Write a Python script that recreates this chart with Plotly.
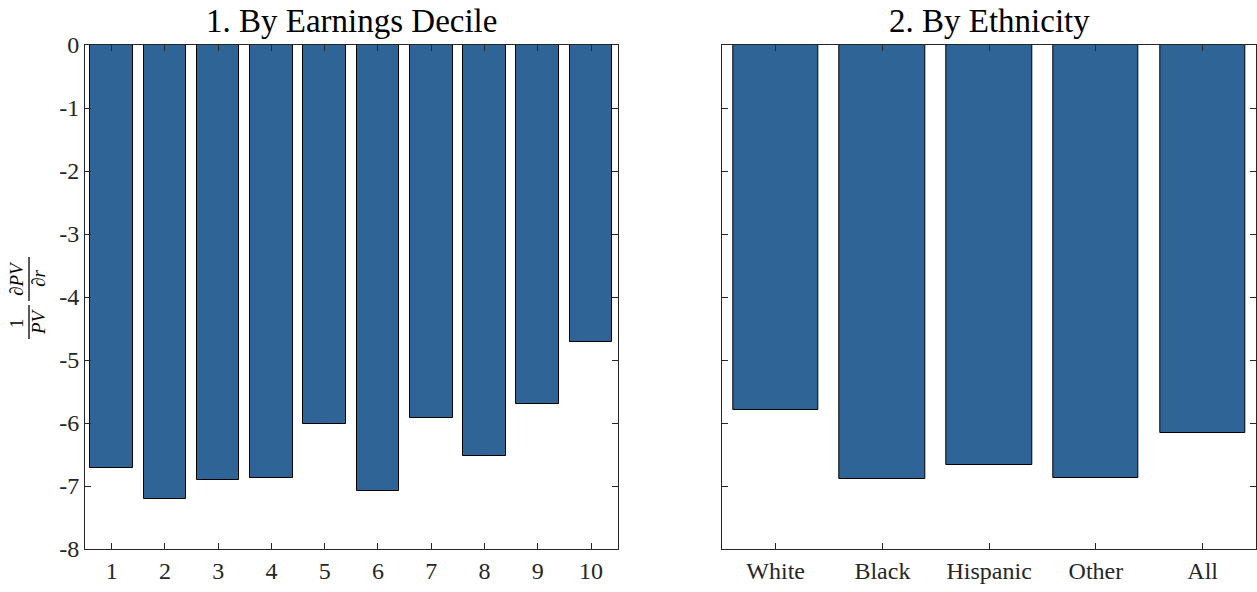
import plotly.graph_objects as go
from plotly.subplots import make_subplots

deciles = [1, 2, 3, 4, 5, 6, 7, 8, 9, 10]
decile_values = [-6.71, -7.21, -6.91, -6.87, -6.02, -7.08, -5.92, -6.53, -5.70, -4.71]
ethnicities = ["White", "Black", "Hispanic", "Other", "All"]
ethnicity_values = [-5.79, -6.89, -6.67, -6.88, -6.16]
ytick_vals = [0, -1, -2, -3, -4, -5, -6, -7, -8]
ytick_text = ["0", "-1", "-2", "-3", "-4", "-5", "-6", "-7", "-8"]
titles = ["1. By Earnings Decile", "2. By Ethnicity"]

W, H = 1257, 592
ML, MR, MT, MB = 85, 1, 45, 43
PW = W - ML - MR
PH = H - MT - MB

FONT = "Liberation Serif"
BAR = "rgb(47,100,151)"
AX = "#262626"

fig = make_subplots(rows=1, cols=2, horizontal_spacing=0.09)
fig.add_trace(go.Bar(x=deciles, y=decile_values, width=0.8,
                     marker=dict(color=BAR, line=dict(color="black", width=1))), 1, 1)
fig.add_trace(go.Bar(x=list(range(1, 6)), y=ethnicity_values, width=0.8,
                     marker=dict(color=BAR, line=dict(color="black", width=1))), 1, 2)

ld = [0, (617.7 - ML) / PW]
rd = [(722.3 - ML) / PW, 1]

axcommon = dict(showline=True, linecolor=AX, linewidth=1, mirror="ticks", ticks="inside",
                ticklen=6, tickcolor=AX, showgrid=False, zeroline=False,
                tickfont=dict(family=FONT, size=24, color="#262626"))

fig.update_xaxes(domain=ld, range=[0.5, 10.5], tickvals=deciles,
                 ticktext=[str(d) for d in deciles], row=1, col=1, **axcommon)
fig.update_xaxes(domain=rd, range=[0.5, 5.5], tickvals=list(range(1, 6)),
                 ticktext=ethnicities, row=1, col=2, **axcommon)
fig.update_yaxes(range=[-8, 0], tickvals=ytick_vals, ticktext=ytick_text,
                 row=1, col=1, **axcommon)
fig.update_yaxes(range=[-8, 0], tickvals=ytick_vals, ticktext=ytick_text,
                 showticklabels=False, row=1, col=2, **axcommon)

def px(xp):
    return (xp - ML) / PW

def py(yp):
    return 1 - (yp - MT) / PH

ann = []
for t, d in zip(titles, [ld, rd]):
    ann.append(dict(text=t, x=(d[0] + d[1]) / 2, y=py(21), xref="paper", yref="paper",
                    showarrow=False, font=dict(family=FONT, size=33, color="black"),
                    xanchor="center", yanchor="middle"))

lab = [("1", 16, 323), ("<i>PV</i>", 38, 322),
       ("<i>∂PV</i>", 16, 279), ("<i>∂r</i>", 38, 279)]
for txt, xp, yp in lab:
    ann.append(dict(text=txt, x=px(xp), y=py(yp), xref="paper", yref="paper",
                    showarrow=False, textangle=-90,
                    font=dict(family=FONT, size=19, color="black"),
                    xanchor="center", yanchor="middle"))

shapes = [
    dict(type="line", xref="paper", yref="paper", x0=px(29), x1=px(29),
         y0=py(305), y1=py(339), line=dict(color="black", width=1.3)),
    dict(type="line", xref="paper", yref="paper", x0=px(29), x1=px(29),
         y0=py(257), y1=py(301), line=dict(color="black", width=1.3)),
]

fig.update_layout(width=W, height=H, margin=dict(l=ML, r=MR, t=MT, b=MB),
                  plot_bgcolor="white", paper_bgcolor="white", showlegend=False,
                  bargap=0, annotations=ann, shapes=shapes,
                  font=dict(family=FONT))
fig.write_html("out.html", config={"displayModeBar": False},
               post_script="document.body.style.margin='0';")
